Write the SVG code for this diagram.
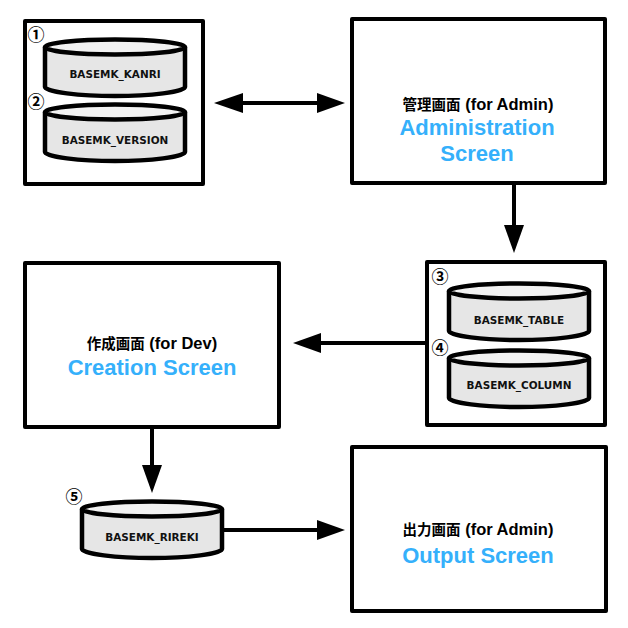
<svg xmlns="http://www.w3.org/2000/svg" width="628" height="628" viewBox="0 0 628 628">
<style>
.box{fill:#fff;stroke:#000;stroke-width:4;stroke-linejoin:round}
.body{fill:#e6e6e6;stroke:#000;stroke-width:4.5}
.top{fill:#f2f2f2;stroke:#000;stroke-width:4.5}
.db{font-family:"DejaVu Sans",Verdana,sans-serif;font-size:10.45px;font-weight:bold;text-anchor:middle;fill:#111}
.num{font-family:"Noto Sans CJK JP",sans-serif;font-size:17px;font-weight:bold;text-anchor:middle;fill:#000}
.jp{font-family:"Liberation Sans","Noto Sans CJK JP",sans-serif;font-size:16.5px;font-weight:bold;text-anchor:middle;fill:#000}
.cjk{font-family:"Noto Sans CJK JP",sans-serif;font-size:14.5px}
.en{font-family:"Liberation Sans",Arial,sans-serif;font-size:22px;font-weight:bold;text-anchor:middle;fill:#35b0fb}
.line{stroke:#000;stroke-width:4;fill:none}
.head{fill:#000}
</style>
<defs>
<g id="cyl">
<path class="body" d="M-70 0V40C-70 45 -35 49 0 49S70 45 70 40V0"/>
<ellipse class="top" cx="0" cy="0" rx="70" ry="7.5"/>
</g>
</defs>
<g id="connectors">
<path class="line" d="M232 103H328"/>
<polygon class="head" points="214,103 243,93 243,113"/>
<polygon class="head" points="345,103 317,93 317,113"/>
<path class="line" d="M514 184V236"/>
<polygon class="head" points="514,253 504,225 524,225"/>
<path class="line" d="M428 343H315"/>
<polygon class="head" points="293,343 321,333 321,353"/>
<path class="line" d="M152 426V475"/>
<polygon class="head" points="152,493 142,465 162,465"/>
<path class="line" d="M224 530H320"/>
<polygon class="head" points="345,530 317,520 317,540"/>
</g>
<g id="group-top"><rect class="box" x="25" y="21" width="178" height="163"/></g>
<g id="node-kanri"><use href="#cyl" x="115" y="47"/><text class="db" x="115" y="78">BASEMK_KANRI</text><text class="num" x="36" y="41">①</text></g>
<g id="node-version"><use href="#cyl" x="115" y="112"/><text class="db" x="115" y="144">BASEMK_VERSION</text><text class="num" x="36" y="108">②</text></g>
<g id="node-admin"><rect class="box" x="352" y="19" width="253" height="164"/>
<text class="jp" x="478" y="110"><tspan class="cjk">管理画面</tspan> (for Admin)</text>
<text class="en" x="477" y="135">Administration</text>
<text class="en" x="477" y="161">Screen</text></g>
<g id="group-mid"><rect class="box" x="427" y="262" width="178" height="163"/></g>
<g id="node-table"><use href="#cyl" x="519" y="291"/><text class="db" x="519" y="324">BASEMK_TABLE</text><text class="num" x="440" y="283">③</text></g>
<g id="node-column"><use href="#cyl" x="519" y="358"/><text class="db" x="519" y="389">BASEMK_COLUMN</text><text class="num" x="440" y="354">④</text></g>
<g id="node-creation"><rect class="box" x="25" y="263" width="254" height="164"/>
<text class="jp" x="152" y="349"><tspan class="cjk">作成画面</tspan> (for Dev)</text>
<text class="en" x="152" y="375">Creation Screen</text></g>
<g id="node-rireki"><use href="#cyl" x="152" y="509"/><text class="db" x="152" y="541">BASEMK_RIREKI</text><text class="num" x="74" y="503">⑤</text></g>
<g id="node-output"><rect class="box" x="352" y="447" width="254" height="164"/>
<text class="jp" x="478" y="535"><tspan class="cjk">出力画面</tspan> (for Admin)</text>
<text class="en" x="478" y="563">Output Screen</text></g>
</svg>
